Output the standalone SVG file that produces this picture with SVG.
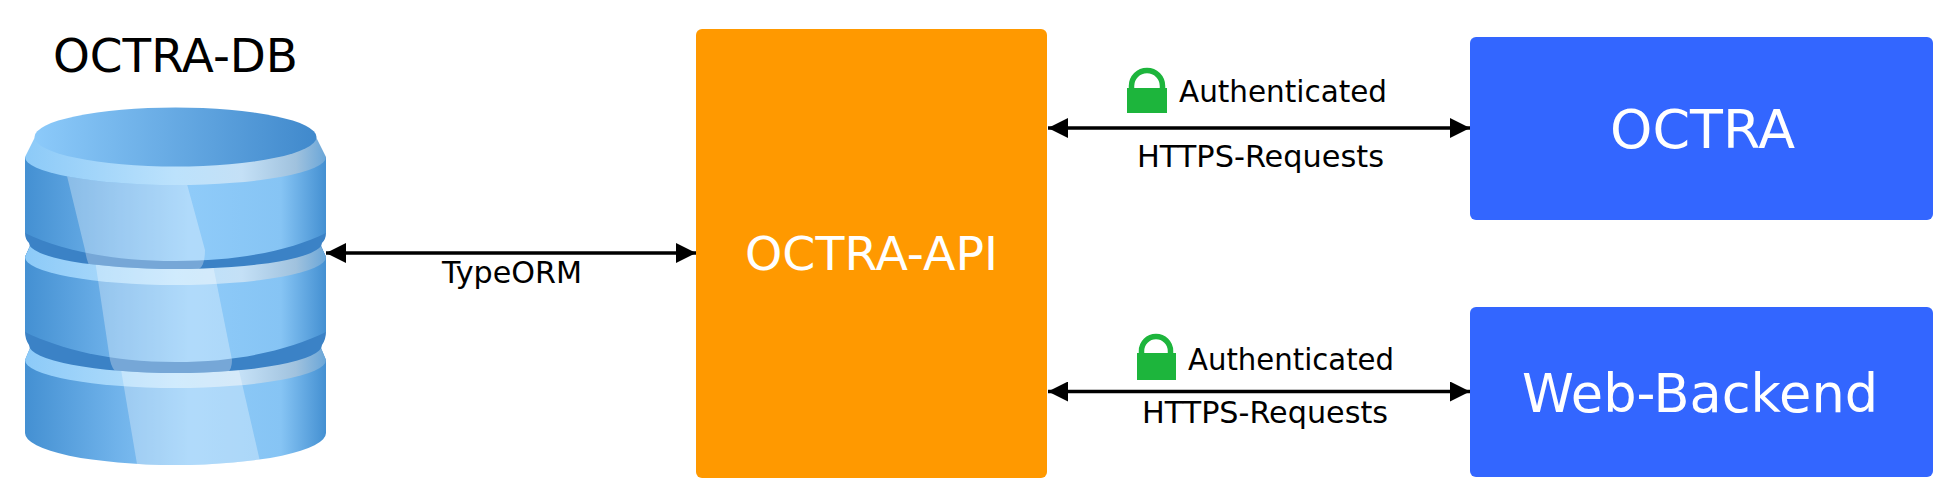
<svg xmlns="http://www.w3.org/2000/svg" width="1957" height="500" viewBox="0 0 1957 500">
<style>
text{font-family:"DejaVu Sans",sans-serif;fill:#000}
.lbl{font-size:30px}
.big{font-size:47px;fill:#fff}
.huge{font-size:54px;fill:#fff}
.wire{stroke:#000;stroke-width:3.4;fill:none;marker-start:url(#ah);marker-end:url(#ah)}
.gloss{fill:#fff;opacity:.3}
.lock{fill:#1db53c}
.shackle{fill:none;stroke:#1db53c;stroke-width:5.500}
</style>
<defs>
<marker id="ah" viewBox="0 0 20 20" refX="20" refY="10" markerUnits="userSpaceOnUse" markerWidth="20" markerHeight="20" orient="auto-start-reverse"><path d="M0 0L20 10L0 20Z" fill="#000"/></marker>
<linearGradient id="side"><stop offset="0" stop-color="#4490d2"/><stop offset=".3" stop-color="#6fb2ea"/><stop offset=".55" stop-color="#8fcbf9"/><stop offset=".85" stop-color="#86c4f4"/><stop offset="1" stop-color="#4490d2"/></linearGradient>
<linearGradient id="band"><stop offset="0" stop-color="#8ccaf8"/><stop offset=".5" stop-color="#bce2fc"/><stop offset=".72" stop-color="#c4e0f6"/><stop offset=".9" stop-color="#a0c2de"/><stop offset="1" stop-color="#6aa6d8"/></linearGradient>
<linearGradient id="top"><stop offset="0" stop-color="#8ccafa"/><stop offset="1" stop-color="#4089cc"/></linearGradient>
<clipPath id="c1"><path d="M25 157A150.500 28 0 0 0 326 157V233Q326 239 322 243A146.500 26 0 0 1 29 243Q25 239 25 233Z"/></clipPath>
<clipPath id="c2"><path d="M30 246L25 257V332Q25 339 29 345A146.500 28 0 0 0 322 345Q326 339 326 332V257L321 246Z"/></clipPath>
<clipPath id="c3"><path d="M30 348L25 360V433A150.500 32 0 0 0 326 433V360L321 348Z"/></clipPath>
</defs>
<g id="db">
<g id="disc3">
<path d="M30 348L25 360V433A150.500 32 0 0 0 326 433V360L321 348Z" fill="url(#side)"/>
<path d="M30 348L25 360A150.500 28 0 0 0 326 360L321 348Z" fill="url(#band)"/>
<path class="gloss" clip-path="url(#c3)" d="M116 340H232L262 470H138Z"/>
</g>
<g id="disc2">
<path d="M30 246L25 257V332Q25 339 29 345A146.500 28 0 0 0 322 345Q326 339 326 332V257L321 246Z" fill="#3b82c6"/>
<path d="M30 246L25 257V332C60 349 110 362 175.500 362C241 362 291 349 326 332V257L321 246Z" fill="url(#side)"/>
<path d="M30 246L25 257A150.500 28 0 0 0 326 257L321 246Z" fill="url(#band)"/>
<path class="gloss" clip-path="url(#c2)" d="M92 240H208L232 360Q232 375 220 375H125Q113 375 110 360Z"/>
</g>
<g id="disc1">
<path d="M25 157V233Q25 239 29 243A146.500 26 0 0 0 322 243Q326 239 326 233V157Z" fill="#3b82c6"/>
<path d="M25 157V233C60 250 110 261 175.500 261C241 261 291 250 326 233V157Z" fill="url(#side)"/>
<path d="M35 137L25 157A150.500 28 0 0 0 326 157L316 137Z" fill="url(#band)"/>
<ellipse cx="175.500" cy="137" rx="141" ry="29.500" fill="url(#top)"/>
<path class="gloss" clip-path="url(#c1)" d="M67 176Q125 186 187 184L205 250Q205 270 195 270H95Q88 270 85 250Z"/>
</g>
<text x="53" y="72" font-size="46" textLength="245" lengthAdjust="spacingAndGlyphs">OCTRA-DB</text>
</g>
<g id="api"><rect x="696" y="29" width="351" height="449" rx="6" fill="#ff9900"/><text class="big" x="745" y="270" textLength="253" lengthAdjust="spacingAndGlyphs">OCTRA-API</text></g>
<g id="octra"><rect x="1470" y="37" width="463" height="183" rx="6" fill="#3366ff"/><text class="huge" x="1610" y="148" textLength="185" lengthAdjust="spacingAndGlyphs">OCTRA</text></g>
<g id="web"><rect x="1470" y="307" width="463" height="170" rx="6" fill="#3366ff"/><text class="huge" x="1522" y="412" textLength="356" lengthAdjust="spacingAndGlyphs">Web-Backend</text></g>
<g id="connectors">
<line class="wire" x1="326" y1="253" x2="696" y2="253"/>
<line class="wire" x1="1048" y1="128" x2="1470" y2="128"/>
<line class="wire" x1="1048" y1="391.500" x2="1470" y2="391.500"/>
</g>
<g id="labels">
<text class="lbl" x="442" y="283" textLength="140" lengthAdjust="spacingAndGlyphs">TypeORM</text>
<text class="lbl" x="1179" y="102" textLength="208" lengthAdjust="spacingAndGlyphs">Authenticated</text>
<text class="lbl" x="1137" y="167" textLength="247" lengthAdjust="spacingAndGlyphs">HTTPS-Requests</text>
<text class="lbl" x="1188" y="369.500" textLength="206" lengthAdjust="spacingAndGlyphs">Authenticated</text>
<text class="lbl" x="1142" y="423" textLength="246" lengthAdjust="spacingAndGlyphs">HTTPS-Requests</text>
</g>
<g id="lock1"><path class="shackle" d="M1131.500 90V86A15.500 15.500 0 0 1 1162.500 86V90"/><rect class="lock" x="1127" y="88" width="40" height="25"/></g>
<g id="lock2"><path class="shackle" d="M1141.500 356V351A14.500 14.500 0 0 1 1170.500 351V356"/><rect class="lock" x="1137" y="353" width="39" height="27"/></g>
</svg>
